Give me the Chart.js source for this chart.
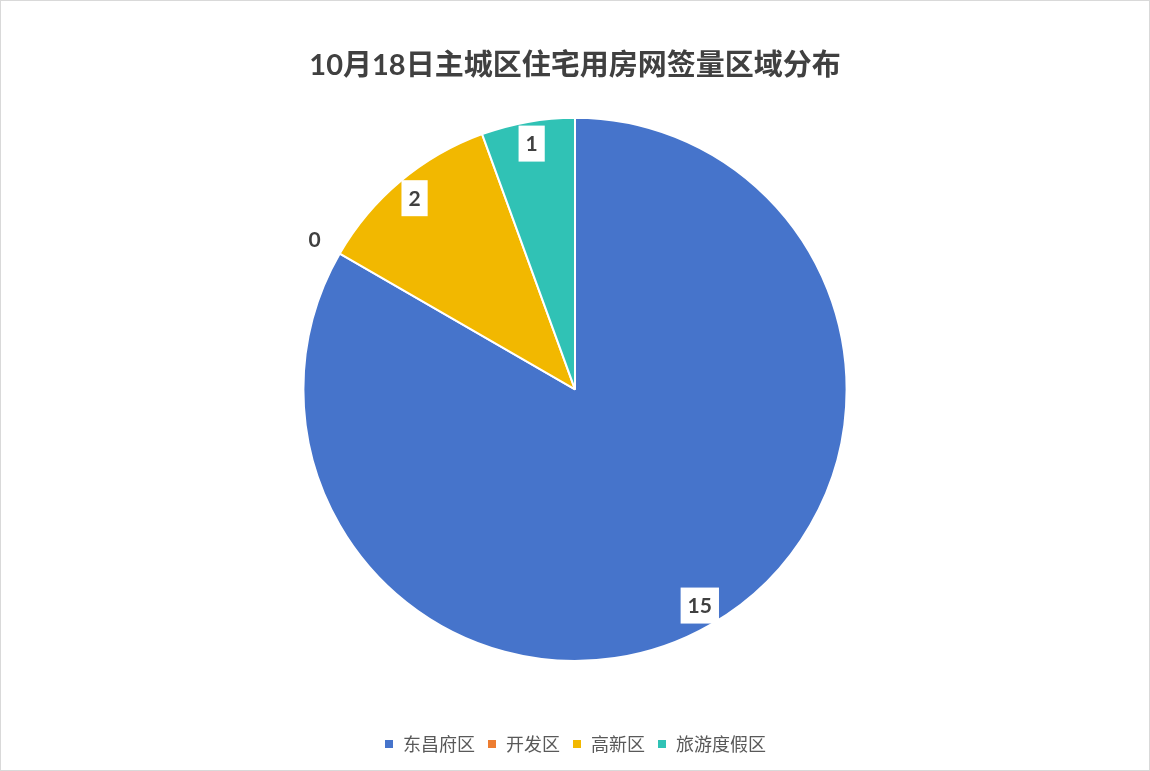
<!DOCTYPE html>
<html>
<head>
<meta charset="utf-8">
<script src="https://cdn.jsdelivr.net/npm/chart.js@4.4.0/dist/chart.umd.min.js"></script>
<style>
  html, body { margin: 0; padding: 0; background: #fff; }
  #wrap { width: 1148px; height: 769px; border: 1px solid #d9d9d9; position: relative; }
</style>
</head>
<body>
<div id="wrap"><canvas id="myPie"></canvas></div>
<script>
let labels1 = ['东昌府区', '开发区', '高新区', '旅游度假区'];
let data1 = [15, 0, 2, 1];
let colors1 = ['#4674CB', '#ED7D31', '#F2B800', '#30C2B5'];
let titleText = '10月18日主城区住宅用房网签量区域分布';

// value labels: white box just inside the rim, zero slices get a plain label outside
const valueLabels = {
    id: 'valueLabels',
    afterDatasetsDraw(chart) {
        const ctx = chart.ctx;
        const meta = chart.getDatasetMeta(0);
        ctx.save();
        ctx.font = 'bold 21px Lato, "Noto Sans CJK SC", sans-serif';
        ctx.textAlign = 'center';
        ctx.textBaseline = 'middle';
        meta.data.forEach((arc, i) => {
            const p = arc.getProps(['x', 'y', 'startAngle', 'endAngle', 'outerRadius'], true);
            const mid = (p.startAngle + p.endAngle) / 2;
            const v = data1[i];
            const txt = String(v);
            let r = v === 0 ? p.outerRadius + 29 : p.outerRadius - 22;
            const x = p.x + Math.cos(mid) * r;
            const y = p.y + Math.sin(mid) * r;
            if (v !== 0) {
                const w = ctx.measureText(txt).width + 14;
                ctx.fillStyle = '#fff';
                ctx.fillRect(x - w / 2, y - 18, w, 36);
            }
            ctx.fillStyle = '#404040';
            ctx.fillText(txt, x, y + 1);
        });
        ctx.restore();
    }
};

let myPieChart = document.getElementById('myPie').getContext('2d');

let chart1 = new Chart(myPieChart, {
    type: 'pie',
    data: {
        labels: labels1,
        datasets: [{
            data: data1,
            backgroundColor: colors1,
            borderColor: '#fff',
            borderWidth: 2
        }]
    },
    options: {
        responsive: true,
        maintainAspectRatio: false,
        animation: false,
        layout: { padding: { bottom: 7 } },
        plugins: {
            title: {
                display: true,
                text: titleText,
                color: '#404040',
                font: { family: 'Lato, "Noto Sans CJK SC", sans-serif', size: 29, weight: 'bold' },
                padding: { top: 47, bottom: 34 }
            },
            legend: {
                position: 'bottom',
                title: {
                    display: true,
                    text: '',
                    font: { size: 10 },
                    padding: { top: 49, bottom: 0 }
                },
                labels: {
                    boxWidth: 10,
                    boxHeight: 10,
                    padding: 12,
                    color: '#595959',
                    font: { family: '"Noto Sans CJK SC", sans-serif', size: 18 }
                }
            },
            tooltip: { enabled: false }
        }
    },
    plugins: [valueLabels]
});
</script>
</body>
</html>
